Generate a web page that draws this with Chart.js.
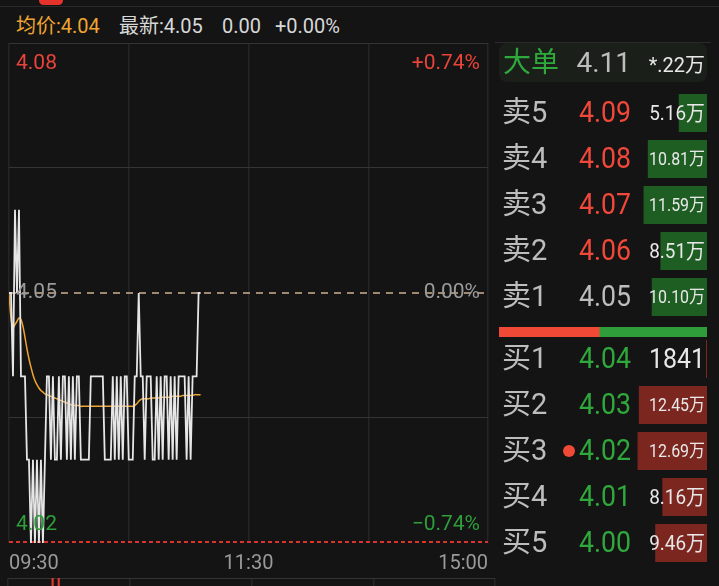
<!DOCTYPE html>
<html>
<head>
<meta charset="utf-8">
<script src="https://cdn.jsdelivr.net/npm/chart.js@4.4.0/dist/chart.umd.min.js"></script>
<style>
    html, body {
        margin: 0;
        padding: 0;
        width: 719px;
        height: 586px;
        overflow: hidden;
        background: #141414;
        font-family: Roboto, "Noto Sans CJK SC", sans-serif;
    }
    .abs { position: absolute; }
    .hd { top: 14px; font-size: 20px; line-height: 24px; white-space: nowrap; }
    #tab { left: 39px; top: -4px; width: 24px; height: 9px; border-radius: 5px; background: #e5332c; }
    #sep { left: 0; top: 6px; width: 719px; height: 1px; background: #2a2a2a; }
    #bookTop { left: 495px; top: 42px; width: 216px; height: 1px; background: #2a2a2a; }
    #bigOrder { left: 499px; top: 43px; width: 208px; height: 39px; border-radius: 8px; background: #1a1f1a; }
    #bigOrder span { position: absolute; top: 5px; line-height: 30px; white-space: nowrap; }
</style>
</head>
<body>
<div id="tab" class="abs"></div>
<div id="sep" class="abs"></div>
<div class="abs hd" style="left:16px;color:#f0a531">均价:4.04</div>
<div class="abs hd" style="left:119px;color:#d8d8d8">最新:4.05</div>
<div class="abs hd" style="left:222px;color:#d8d8d8">0.00</div>
<div class="abs hd" style="left:275px;color:#d8d8d8">+0.00%</div>

<div class="abs" style="left:0;top:40px;width:497px;height:538px"><canvas id="mainChart"></canvas></div>
<div class="abs" style="left:0;top:577px;width:497px;height:80px"><canvas id="volChart"></canvas></div>

<div id="bookTop" class="abs"></div>
<div id="bigOrder" class="abs">
    <span style="left:4px;font-size:28px;color:#2fa83c">大单</span>
    <span style="right:76px;font-size:28px;color:#bdbdbd">4.11</span>
    <span style="right:2px;top:7px;font-size:20px;color:#e8e8e8">*.22万</span>
</div>
<div class="abs" style="left:497px;top:90px;width:222px;height:230px"><canvas id="sellChart"></canvas></div>
<div class="abs" style="left:497px;top:327px;width:222px;height:10px"><canvas id="ratioChart"></canvas></div>
<div class="abs" style="left:497px;top:336px;width:222px;height:230px"><canvas id="buyChart"></canvas></div>

<script>
// ---- data ----
const timeTicks = [0, 60, 120, 180, 240];
const timeLabels = ['09:30', '', '11:30', '', '15:00'];
const priceTicks = [4.02, 4.035, 4.05, 4.065, 4.08];
const prevClose = 4.05;
const priceMin = 4.02;
const priceMax = 4.08;

// one value per minute from 09:30
const minutePrices = [
    4.05, 4.05, 4.04, 4.06, 4.05, 4.06, 4.04, 4.04, 4.04, 4.03,
    4.03, 4.02, 4.03, 4.02, 4.03, 4.02, 4.03, 4.02, 4.03, 4.04,
    4.04, 4.03, 4.04, 4.03, 4.03, 4.04, 4.03, 4.04, 4.04, 4.03,
    4.04, 4.03, 4.04, 4.03, 4.04, 4.04, 4.03, 4.03, 4.03, 4.03,
    4.03, 4.04, 4.04, 4.04, 4.04, 4.04, 4.04, 4.04, 4.03, 4.03,
    4.03, 4.03, 4.04, 4.03, 4.04, 4.03, 4.04, 4.03, 4.04, 4.04,
    4.03, 4.03, 4.03, 4.04, 4.04, 4.05, 4.04, 4.04, 4.03, 4.04,
    4.04, 4.04, 4.03, 4.03, 4.04, 4.03, 4.04, 4.03, 4.04, 4.04,
    4.03, 4.04, 4.03, 4.04, 4.03, 4.04, 4.04, 4.04, 4.04, 4.03,
    4.04, 4.03, 4.04, 4.04, 4.04, 4.05, 4.05
];
const minuteAvg = [
    4.0500, 4.0470, 4.0458, 4.0462, 4.0466, 4.0470, 4.0468, 4.0460, 4.0447, 4.0433,
    4.0421, 4.0411, 4.0402, 4.0395, 4.0390, 4.0386, 4.0383, 4.0381, 4.0379, 4.0378,
    4.0377, 4.0376, 4.0375, 4.0374, 4.0373, 4.0372, 4.0371, 4.0370, 4.0369, 4.0368,
    4.0367, 4.0366, 4.0366, 4.0365, 4.0365, 4.0365, 4.0364, 4.0364, 4.0364, 4.0364,
    4.0364, 4.0364, 4.0364, 4.0364, 4.0364, 4.0364, 4.0364, 4.0364, 4.0364, 4.0364,
    4.0364, 4.0364, 4.0364, 4.0364, 4.0364, 4.0364, 4.0364, 4.0364, 4.0364, 4.0364,
    4.0364, 4.0364, 4.0364, 4.0365, 4.0367, 4.0370, 4.0372, 4.0373, 4.0373, 4.0373,
    4.0373, 4.0374, 4.0374, 4.0374, 4.0374, 4.0374, 4.0375, 4.0375, 4.0375, 4.0375,
    4.0375, 4.0375, 4.0376, 4.0376, 4.0376, 4.0376, 4.0376, 4.0377, 4.0377, 4.0377,
    4.0377, 4.0377, 4.0377, 4.0378, 4.0378, 4.0378, 4.0378
];

// volume bars visible at the bottom edge
const volMinutes = [22, 25];
const volValues = [100, 100];

// order book (volumes in 万)
const sellNames = ['卖5', '卖4', '卖3', '卖2', '卖1'];
const sellPrices = [4.09, 4.08, 4.07, 4.06, 4.05];
const sellVolumes = [5.16, 10.81, 11.59, 8.51, 10.10];
const buyNames = ['买1', '买2', '买3', '买4', '买5'];
const buyPrices = [4.04, 4.03, 4.02, 4.01, 4.00];
const buyVolumes = [0.1841, 12.45, 12.69, 8.16, 9.46];
const markedRow = '买3';
const bookAxisMax = 38;

// ---- colors ----
const RED = '#f2483a';
const GREEN = '#2fa83c';
const GRAY = '#bdbdbd';
const VGRID = '#252525';
const HGRID = '#343434';
const FONT = 'Roboto, "Noto Sans CJK SC", sans-serif';

Chart.defaults.animation = false;
Chart.defaults.plugins.legend.display = false;
Chart.defaults.plugins.tooltip.enabled = false;

function pct(v) {
    const p = (v - prevClose) / prevClose * 100;
    if (Math.abs(p) < 0.005) return '0.00%';
    return (p > 0 ? '+' : '\u2212') + Math.abs(p).toFixed(2) + '%';
}

function priceColor(p) {
    if (p > prevClose + 1e-9) return RED;
    if (p < prevClose - 1e-9) return GREEN;
    return GRAY;
}

const near = (a, b) => Math.abs(a - b) < 1e-6;

// draw text squeezed horizontally so it fits maxWidth, like the narrow app font
function drawFitted(ctx, text, x, y, size, maxWidth, squeeze) {
    ctx.font = size + 'px ' + FONT;
    const w = ctx.measureText(text).width * squeeze;
    let sx = squeeze;
    if (w > maxWidth) {
        const k = maxWidth / w;
        ctx.font = (size * Math.max(k, 0.8)) + 'px ' + FONT;
        sx = maxWidth / ctx.measureText(text).width;
    }
    ctx.save();
    ctx.translate(x, y);
    ctx.scale(sx, 1);
    ctx.fillText(text, 0, 0);
    ctx.restore();
}

// dashed reference lines + price / percent labels inside the plot
const priceLabels = {
    id: 'priceLabels',
    beforeDatasetsDraw(chart) {
        const { ctx, chartArea: a, scales: { y } } = chart;
        ctx.save();
        ctx.strokeStyle = '#cdb08e';
        ctx.lineWidth = 1.5;
        ctx.setLineDash([7, 6]);
        const yc = Math.round(y.getPixelForValue(prevClose));
        ctx.beginPath(); ctx.moveTo(a.left, yc); ctx.lineTo(a.right, yc); ctx.stroke();
        ctx.strokeStyle = '#d9342b';
        ctx.lineWidth = 2;
        ctx.setLineDash([4, 3]);
        const yb = y.getPixelForValue(priceMin) - 1;
        ctx.beginPath(); ctx.moveTo(a.left, yb); ctx.lineTo(a.right, yb); ctx.stroke();
        ctx.restore();
    },
    afterDatasetsDraw(chart) {
        const { ctx, chartArea: a, scales: { y } } = chart;
        ctx.save();
        ctx.font = '21px ' + FONT;
        ctx.textBaseline = 'middle';
        const rows = [
            [priceMax, y.getPixelForValue(priceMax) + 21, '#e8443a'],
            [prevClose, y.getPixelForValue(prevClose), '#9a9a9a'],
            [priceMin, y.getPixelForValue(priceMin) - 18, '#2e9e3a']
        ];
        rows.forEach(([v, py, col]) => {
            ctx.fillStyle = col;
            ctx.textAlign = 'left';
            ctx.fillText(v.toFixed(2), a.left + 7, py);
            ctx.textAlign = 'right';
            ctx.fillText(pct(v), a.right - 8, py);
        });
        ctx.restore();
    }
};

new Chart(document.getElementById('mainChart'), {
    type: 'line',
    data: {
        datasets: [
            {
                data: minutePrices.map((v, i) => ({ x: i, y: v })),
                borderColor: '#e6e6e6',
                borderWidth: 1.8,
                pointRadius: 0,
                tension: 0
            },
            {
                data: minuteAvg.map((v, i) => ({ x: i, y: v })),
                borderColor: '#f0a531',
                borderWidth: 1.5,
                pointRadius: 0,
                tension: 0.3
            }
        ]
    },
    options: {
        responsive: true,
        maintainAspectRatio: false,
        layout: { padding: { left: 8, right: 2, top: 3, bottom: 0 } },
        scales: {
            x: {
                type: 'linear',
                min: 0,
                max: 240,
                afterBuildTicks: s => { s.ticks = timeTicks.map(v => ({ value: v })); },
                afterFit: s => { s.height = 35; },
                grid: { color: VGRID, lineWidth: 1.5, drawTicks: false },
                border: { display: false },
                ticks: {
                    align: 'inner',
                    padding: 9,
                    color: '#9a9a9a',
                    font: { family: FONT, size: 20 },
                    maxRotation: 0,
                    autoSkip: false,
                    callback: v => timeLabels[timeTicks.indexOf(v)]
                }
            },
            y: {
                min: priceMin,
                max: priceMax,
                afterBuildTicks: s => { s.ticks = priceTicks.map(v => ({ value: v })); },
                afterFit: s => { s.width = 0; },
                grid: {
                    drawTicks: false,
                    color: c => (near(c.tick.value, prevClose) || near(c.tick.value, priceMin)) ? 'rgba(0,0,0,0)' : HGRID
                },
                border: { display: false },
                ticks: { display: false }
            }
        }
    },
    plugins: [priceLabels]
});

// volume panel, only its top edge is on screen
new Chart(document.getElementById('volChart'), {
    type: 'bar',
    data: {
        datasets: [{
            data: volMinutes.map((m, i) => ({ x: m, y: volValues[i] })),
            backgroundColor: '#e0372e',
            barThickness: 1.5
        }]
    },
    options: {
        responsive: true,
        maintainAspectRatio: false,
        layout: { padding: { left: 8, right: 2, top: 1, bottom: 0 } },
        scales: {
            x: {
                type: 'linear', min: 0, max: 240, offset: false,
                afterBuildTicks: s => { s.ticks = timeTicks.map(v => ({ value: v })); },
                afterFit: s => { s.height = 0; },
                grid: { color: VGRID, lineWidth: 1.5, drawTicks: false, offset: false },
                border: { display: false },
                ticks: { display: false }
            },
            y: {
                min: 0, max: 100,
                afterBuildTicks: s => { s.ticks = [{ value: 100 }]; },
                afterFit: s => { s.width = 0; },
                grid: { color: HGRID, drawTicks: false },
                border: { display: false },
                ticks: { display: false }
            }
        }
    }
});

// ---- order book ----
function volText(v) {
    return v >= 1 ? v.toFixed(2) + '万' : String(Math.round(v * 10000));
}

function bookText(names, prices, vols) {
    return {
        id: 'bookText',
        afterDatasetsDraw(chart) {
            const { ctx, chartArea: a, scales: { y } } = chart;
            ctx.save();
            ctx.textBaseline = 'middle';
            names.forEach((name, i) => {
                const cy = y.getPixelForValue(i);
                ctx.font = '29px ' + FONT;
                ctx.textAlign = 'left';
                ctx.fillStyle = GRAY;
                ctx.fillText(name, a.left + 3, cy + 2);
                ctx.fillStyle = priceColor(prices[i]);
                drawFitted(ctx, prices[i].toFixed(2), a.left + 80, cy + 2, 29, 53, 0.92);
                if (name === markedRow) {
                    ctx.beginPath();
                    ctx.arc(a.left + 70, cy, 6, 0, Math.PI * 2);
                    ctx.fillStyle = '#f04a36';
                    ctx.fill();
                }
                const t = volText(vols[i]);
                ctx.textAlign = 'right';
                ctx.fillStyle = '#e8e8e8';
                drawFitted(ctx, t, a.right - 2, cy + 2, t.endsWith('万') ? 21 : 28, 56, 0.9);
            });
            ctx.restore();
        }
    };
}

function bookChart(id, names, prices, vols, color) {
    return new Chart(document.getElementById(id), {
        type: 'bar',
        data: {
            labels: names,
            datasets: [{ data: vols, backgroundColor: color, barPercentage: 0.83, categoryPercentage: 1 }]
        },
        options: {
            indexAxis: 'y',
            responsive: true,
            maintainAspectRatio: false,
            layout: { padding: { left: 2, right: 12, top: 0, bottom: 0 } },
            scales: {
                x: { min: 0, max: bookAxisMax, reverse: true, display: false },
                y: { display: false }
            }
        },
        plugins: [bookText(names, prices, vols)]
    });
}

bookChart('sellChart', sellNames, sellPrices, sellVolumes, '#1f5e23');
bookChart('buyChart', buyNames, buyPrices, buyVolumes, '#7c2620');

const buyTotal = buyVolumes.reduce((s, v) => s + v, 0);
const sellTotal = sellVolumes.reduce((s, v) => s + v, 0);

new Chart(document.getElementById('ratioChart'), {
    type: 'bar',
    data: {
        labels: [''],
        datasets: [
            { data: [buyTotal], backgroundColor: '#f04a36', barPercentage: 1, categoryPercentage: 1 },
            { data: [sellTotal], backgroundColor: '#2f9e3a', barPercentage: 1, categoryPercentage: 1 }
        ]
    },
    options: {
        indexAxis: 'y',
        responsive: true,
        maintainAspectRatio: false,
        layout: { padding: { left: 2, right: 12, top: 0, bottom: 0 } },
        scales: {
            x: { stacked: true, min: 0, max: buyTotal + sellTotal, display: false },
            y: { stacked: true, display: false }
        }
    }
});
</script>
</body>
</html>
